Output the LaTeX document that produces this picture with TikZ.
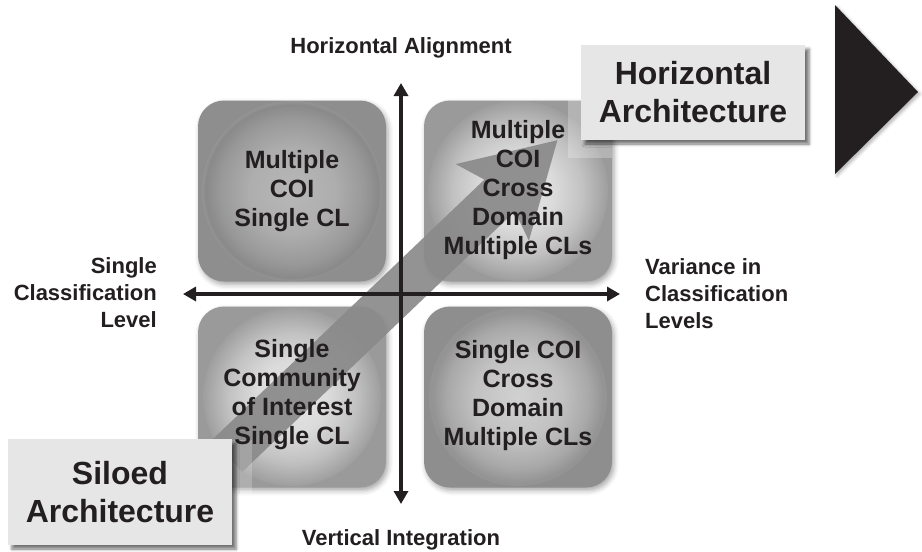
\documentclass[tikz,border=0pt]{standalone}
\usepackage{fontspec}
\setmainfont{Liberation Sans}
\usetikzlibrary{arrows.meta,shadows.blur}
\definecolor{ink}{HTML}{231F20}
\definecolor{rimA}{HTML}{8E8E8E}
\definecolor{rimB}{HTML}{9A9A9A}
\definecolor{bandc}{HTML}{8A8A8A}
\definecolor{archfill}{HTML}{E6E6E7}
\pgfdeclareradialshading{qdark}{\pgfpoint{0bp}{0bp}}{color(0bp)=(white!72!black); color(12bp)=(white!68!black); color(20bp)=(white!60!black); color(24bp)=(white!54!black); color(25bp)=(white!58!black); color(50bp)=(white!58!black)}
\pgfdeclareradialshading{qlight}{\pgfpoint{0bp}{0bp}}{color(0bp)=(white!90!black); color(10bp)=(white!86!black); color(18bp)=(white!76!black); color(23bp)=(white!66!black); color(25bp)=(white!62!black); color(50bp)=(white!62!black)}
\pgfdeclareradialshading{qmid}{\pgfpoint{0bp}{0bp}}{color(0bp)=(white!82!black); color(12bp)=(white!76!black); color(20bp)=(white!66!black); color(24bp)=(white!58!black); color(25bp)=(white!58!black); color(50bp)=(white!58!black)}
\tikzset{
  quad/.style={draw=none, rounded corners=26pt, minimum width=188pt, minimum height=181pt, inner sep=0pt,
    blur shadow={shadow xshift=2pt, shadow yshift=-3pt, shadow blur radius=5pt, shadow opacity=35}},
  qtext/.style={text=ink, font=\bfseries\fontsize{25}{29}\selectfont, align=center, inner sep=0pt},
  axlbl/.style={text=ink, font=\bfseries\fontsize{22}{27}\selectfont, inner sep=0pt},
  axis/.style={draw=ink, line width=4pt, {Triangle[length=13pt,width=14pt]}-{Triangle[length=13pt,width=14pt]}},
  archbox/.style={fill=archfill, text=ink, font=\bfseries\fontsize{32}{38}\selectfont, align=center, inner sep=0pt,
    blur shadow={shadow xshift=4pt, shadow yshift=-4pt, shadow blur radius=3pt, shadow opacity=55}},
}
\begin{document}
\begin{tikzpicture}[x=1pt,y=-1pt]
\useasboundingbox (0,0) rectangle (922,552);
% quadrant boxes
\node[quad, fill=rimA] (qtl) at (292,191) {};
\node[quad, fill=rimB] (qtr) at (518,191) {};
\node[quad, fill=rimB] (qbl) at (292,397) {};
\node[quad, fill=rimA] (qbr) at (518,397) {};
\shade[shading=qdark] (qtl.center) circle (90);
\shade[shading=qlight] (qtr.center) circle (90);
\shade[shading=qlight] (qbl.center) circle (89);
\shade[shading=qmid] (qbr.center) circle (89);
% big diagonal arrow
\fill[bandc, opacity=0.92] (211.8,440.1) -- (484.4,179.6) -- (455.7,164.1) -- (557.4,140.2)
  -- (528.9,240.7) -- (514.8,211.4) -- (242.2,471.9) -- cycle;
% faint squares behind the labels
\fill[white, opacity=0.25] (568,100) rectangle (612,158);
\fill[white, opacity=0.2] (214,440) rectangle (252,494);
% axes
\coordinate (vt) at (401,83);
\coordinate (vb) at (401,504);
\coordinate (hl) at (183,294);
\coordinate (hr) at (620,294);
\draw[axis] (vb) -- (vt);
\draw[axis] (hl) -- (hr);
% quadrant texts
\node[qtext] (ttl) at (qtl.center) {Multiple\\COI\\Single CL};
\node[qtext] (ttr) at (518,190) {Multiple\\COI\\Cross\\Domain\\Multiple CLs};
\node[qtext] (tbl) at (292,395) {Single\\Community\\of Interest\\Single CL};
\node[qtext] (tbr) at (518,396) {Single COI\\Cross\\Domain\\Multiple CLs};
% axis labels
\node[axlbl] (lt) at (401,48) {Horizontal Alignment};
\node[axlbl] (lb) at (401,540) {Vertical Integration};
\node[axlbl, anchor=east, align=right] (ll) at (157,293) {Single\\Classification\\Level};
\node[axlbl, anchor=west, align=left] (lr) at (645,294) {Variance in\\Classification\\Levels};
% architecture boxes
\node[archbox, minimum width=224pt, minimum height=95pt] (ha) at (693,92.5) {Horizontal\\Architecture};
\node[archbox, minimum width=224pt, minimum height=106pt] (sa) at (120,492) {Siloed\\Architecture};
% right triangle
\fill[ink, blur shadow={shadow xshift=2pt, shadow yshift=-2pt, shadow blur radius=3pt, shadow opacity=30}]
  (835,5) -- (918,92) -- (835,174) -- cycle;
\end{tikzpicture}
\end{document}
